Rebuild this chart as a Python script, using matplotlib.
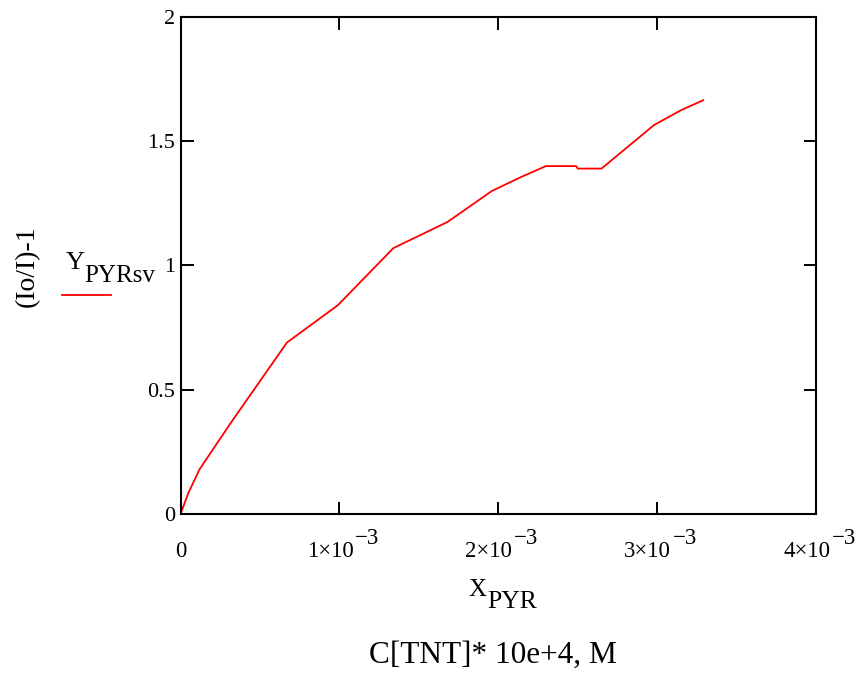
import matplotlib
matplotlib.use("Agg")
import matplotlib.pyplot as plt
from matplotlib.lines import Line2D
from matplotlib.transforms import offset_copy

# Values (concentration, M)
x_pyr = [0, 0.05e-3, 0.12e-3, 0.32e-3, 0.67e-3, 0.99e-3, 1.34e-3, 1.68e-3,
         1.96e-3, 2.14e-3, 2.30e-3, 2.49e-3, 2.50e-3, 2.65e-3, 2.98e-3,
         3.15e-3, 3.29e-3]
y_pyr = [0, 0.085, 0.18, 0.37, 0.69, 0.84, 1.07, 1.175,
         1.30, 1.355, 1.40, 1.40, 1.39, 1.39, 1.565,
         1.625, 1.665]

x_ticks = [0, 1e-3, 2e-3, 3e-3, 4e-3]
x_mant = ["0", "1×10", "2×10", "3×10", "4×10"]
x_exp = ["", "−3", "−3", "−3", "−3"]
y_ticks = [0, 0.5, 1, 1.5, 2]
y_ticklabels = ["0", "0.5", "1", "1.5", "2"]

plt.rcParams["font.family"] = ["Liberation Serif", "DejaVu Serif"]

W, H = 859, 673
fig = plt.figure(figsize=(W / 100, H / 100), dpi=100)
ax = fig.add_axes([180.5 / W, 1 - 514 / H, (816 - 180.5) / W, (514 - 17) / H])

ax.plot(x_pyr, y_pyr, color="#ff0000", lw=1.3)

ax.set_xlim(0, 4e-3)
ax.set_ylim(0, 2)
ax.set_xticks(x_ticks)
ax.set_xticklabels([])
ax.set_yticks(y_ticks)
ax.set_yticklabels(y_ticklabels)
ax.tick_params(direction="in", length=9, width=1.4, labelsize=16,
               top=True, right=True)
ax.tick_params(axis="y", pad=4)
for s in ax.spines.values():
    s.set_linewidth(1.5)

# Mathcad-style x tick labels: mantissa plus a full-size raised exponent
base = ax.get_xaxis_transform()
for xt, m, e in zip(x_ticks, x_mant, x_exp):
    if not e:
        ax.text(xt, 0, m, fontsize=16.5, ha="center", va="baseline",
                transform=offset_copy(base, fig=fig, x=0, y=-43, units="dots"),
                clip_on=False)
        continue
    ax.text(xt, 0, m, fontsize=16.5, ha="right", va="baseline",
            transform=offset_copy(base, fig=fig, x=14, y=-43, units="dots"),
            clip_on=False)
    ax.text(xt, 0, e, fontsize=16.5, ha="left", va="baseline",
            transform=offset_copy(base, fig=fig, x=16, y=-30, units="dots"),
            clip_on=False)

def px(x, y):
    return x / W, 1 - y / H

# axis titles
fig.text(*px(468, 596), "X", fontsize=18, ha="left", va="baseline")
fig.text(*px(487, 608), "PYR", fontsize=18.5, ha="left", va="baseline")
fig.text(*px(493, 663), "C[TNT]* 10e+4, M", fontsize=22.5, ha="center",
         va="baseline")
fig.text(*px(27, 266), "(Io/I)-1", fontsize=20, rotation=90, ha="center",
         va="center")

# trace legend
fig.text(*px(66, 269), "Y", fontsize=19, ha="left", va="baseline")
fig.text(*px(84, 282), "PYRsv", fontsize=18, ha="left", va="baseline")
fig.add_artist(Line2D([62 / W, 111 / W], [1 - 295 / H, 1 - 295 / H],
                      color="#ff0000", lw=1.3))

fig.savefig("out.png", dpi=100)
